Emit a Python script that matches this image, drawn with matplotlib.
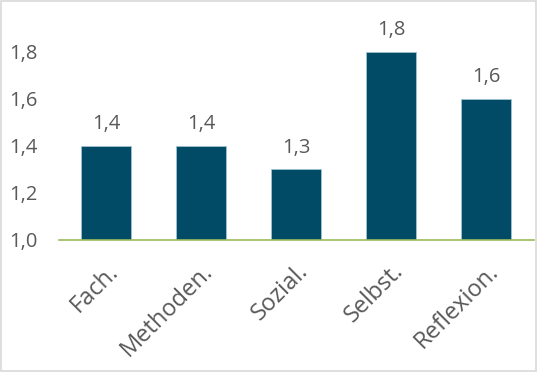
import matplotlib
matplotlib.use("Agg")
import matplotlib.pyplot as plt
from matplotlib.patches import Rectangle

categories = ["Fach.", "Methoden.", "Sozial.", "Selbst.", "Reflexion."]
values = [1.4, 1.4, 1.3, 1.8, 1.6]
yticks = [1.0, 1.2, 1.4, 1.6, 1.8]

bar_color = "#024B66"
text_color = "#595959"
axis_color = "#9BBB59"

plt.rcParams["font.family"] = ["Open Sans", "DejaVu Sans"]

fig = plt.figure(figsize=(5.38, 3.72), dpi=100)
ax = fig.add_axes([0.109, 0.355, 0.883, 0.632])

x = range(len(categories))
bars = ax.bar(x, values, width=0.526, bottom=0, color=bar_color,
              edgecolor="#9FC3D3", linewidth=0.6)

for xi, v in zip(x, values):
    ax.text(xi, v + 0.05, f"{v:.1f}".replace(".", ","), ha="center", va="bottom",
            fontsize=14.5, color=text_color)

ax.set_xlim(-0.5, len(categories) - 0.5)
ax.set_ylim(1.0, 2.0)
ax.set_yticks(yticks)
ax.set_yticklabels([f"{t:.1f}".replace(".", ",") for t in yticks])
ax.set_xticks(list(x))
ax.set_xticklabels(categories, rotation=45, ha="right", rotation_mode="anchor")

ax.tick_params(axis="y", length=0, pad=15, labelsize=14.5, labelcolor=text_color)
ax.tick_params(axis="x", length=0, pad=14, labelsize=17, labelcolor=text_color)

for s in ["top", "right", "left"]:
    ax.spines[s].set_visible(False)
ax.spines["bottom"].set_color(axis_color)
ax.spines["bottom"].set_linewidth(1.2)

fig.patches.append(Rectangle((0.002, 0.003), 0.995, 0.994, transform=fig.transFigure,
                             fill=False, edgecolor="#D9D9D9", linewidth=1.2))

fig.savefig("out.png", dpi=100)
